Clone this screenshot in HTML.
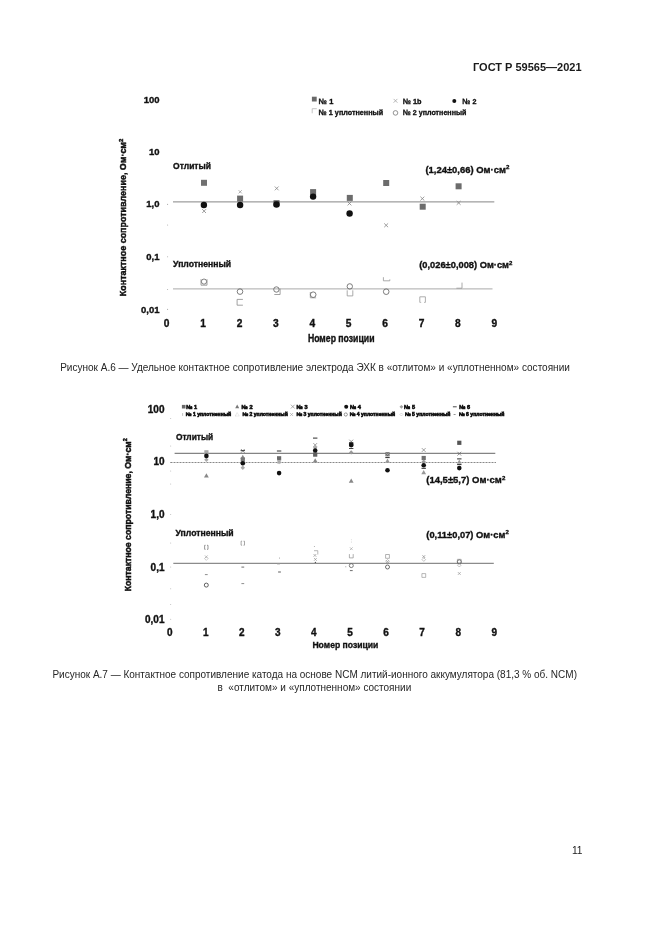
<!DOCTYPE html>
<html lang="ru"><head><meta charset="utf-8"><title>ГОСТ Р 59565—2021</title>
<style>
html,body{margin:0;padding:0;background:#fff;}
body{width:661px;height:935px;position:relative;overflow:hidden;font-family:"Liberation Sans",sans-serif;color:#1a1a1a;}
.t{position:absolute;white-space:nowrap;line-height:1;}
#hdr{left:473.0px;top:62.0px;font-size:11.0px;font-weight:bold;letter-spacing:0;}
#cap1{color:#262626;left:60.2px;top:363.1px;font-size:10.02px;}
#cap2a{color:#262626;left:52.4px;top:670.1px;font-size:10px;}
#cap2b{color:#262626;left:217.5px;top:683.1px;font-size:10px;}
#pn{left:571.9px;top:846.3px;font-size:10.2px;}
#pg{position:absolute;left:0;top:0;width:661px;height:935px;opacity:0.999;will-change:opacity;}
svg{position:absolute;left:0;top:0;}
svg text{font-family:"Liberation Sans",sans-serif;}
</style></head><body>
<div id="pg"><div class="t" id="hdr">ГОСТ Р 59565—2021</div>
<svg width="661" height="935" viewBox="0 0 661 935">
<text x="159.5" y="102.6" font-size="9.5" font-weight="bold" text-anchor="end" fill="#111" stroke="#111" stroke-width="0.35" >100</text>
<text x="159.5" y="154.9" font-size="9.5" font-weight="bold" text-anchor="end" fill="#111" stroke="#111" stroke-width="0.35" >10</text>
<text x="159.5" y="207.3" font-size="9.5" font-weight="bold" text-anchor="end" fill="#111" stroke="#111" stroke-width="0.35" >1,0</text>
<text x="159.5" y="260.1" font-size="9.5" font-weight="bold" text-anchor="end" fill="#111" stroke="#111" stroke-width="0.35" >0,1</text>
<text x="159.5" y="312.9" font-size="9.5" font-weight="bold" text-anchor="end" fill="#111" stroke="#111" stroke-width="0.35" >0,01</text>
<circle cx="167.6" cy="204.4" r="0.55" fill="#aaa"/>
<circle cx="167.6" cy="225.0" r="0.55" fill="#aaa"/>
<circle cx="167.6" cy="256.8" r="0.55" fill="#aaa"/>
<circle cx="167.6" cy="289.5" r="0.55" fill="#aaa"/>
<circle cx="167.6" cy="309.4" r="0.55" fill="#aaa"/>
<text x="166.7" y="326.9" font-size="10.2" font-weight="bold" text-anchor="middle" fill="#111" stroke="#111" stroke-width="0.35" >0</text>
<text x="203.1" y="326.9" font-size="10.2" font-weight="bold" text-anchor="middle" fill="#111" stroke="#111" stroke-width="0.35" >1</text>
<text x="239.5" y="326.9" font-size="10.2" font-weight="bold" text-anchor="middle" fill="#111" stroke="#111" stroke-width="0.35" >2</text>
<text x="275.9" y="326.9" font-size="10.2" font-weight="bold" text-anchor="middle" fill="#111" stroke="#111" stroke-width="0.35" >3</text>
<text x="312.3" y="326.9" font-size="10.2" font-weight="bold" text-anchor="middle" fill="#111" stroke="#111" stroke-width="0.35" >4</text>
<text x="348.7" y="326.9" font-size="10.2" font-weight="bold" text-anchor="middle" fill="#111" stroke="#111" stroke-width="0.35" >5</text>
<text x="385.1" y="326.9" font-size="10.2" font-weight="bold" text-anchor="middle" fill="#111" stroke="#111" stroke-width="0.35" >6</text>
<text x="421.5" y="326.9" font-size="10.2" font-weight="bold" text-anchor="middle" fill="#111" stroke="#111" stroke-width="0.35" >7</text>
<text x="457.9" y="326.9" font-size="10.2" font-weight="bold" text-anchor="middle" fill="#111" stroke="#111" stroke-width="0.35" >8</text>
<text x="494.3" y="326.9" font-size="10.2" font-weight="bold" text-anchor="middle" fill="#111" stroke="#111" stroke-width="0.35" >9</text>
<text x="307.9" y="342.2" font-size="10.0" font-weight="bold" text-anchor="start" fill="#111" stroke="#111" stroke-width="0.35" textLength="66.6" lengthAdjust="spacingAndGlyphs">Номер позиции</text>
<text transform="translate(126.3,217.4) rotate(-90)" font-size="8.9" font-weight="bold" text-anchor="middle" fill="#111" stroke="#111" stroke-width="0.45" textLength="157.5" lengthAdjust="spacingAndGlyphs">Контактное сопротивление, Ом·см<tspan dy="-3.5" font-size="6">2</tspan></text>
<path d="M173 201.9H494.3" stroke="#777" stroke-width="0.9"/>
<path d="M173 288.9H492.5" stroke="#858585" stroke-width="0.7"/>
<text x="173.1" y="169.2" font-size="8.9" font-weight="bold" text-anchor="start" fill="#111" stroke="#111" stroke-width="0.35" textLength="37.9" lengthAdjust="spacingAndGlyphs">Отлитый</text>
<text x="173.1" y="267.4" font-size="8.9" font-weight="bold" text-anchor="start" fill="#111" stroke="#111" stroke-width="0.35" textLength="58" lengthAdjust="spacingAndGlyphs">Уплотненный</text>
<text x="425.4" y="172.5" font-size="9.5" font-weight="bold" text-anchor="start" fill="#111" stroke="#111" stroke-width="0.35" textLength="84" lengthAdjust="spacingAndGlyphs">(1,24±0,66) Ом·см<tspan dy="-3.5" font-size="6.2">2</tspan></text>
<text x="419.2" y="268.4" font-size="9.5" font-weight="bold" text-anchor="start" fill="#111" stroke="#111" stroke-width="0.35" textLength="93.2" lengthAdjust="spacingAndGlyphs">(0,026±0,008) Ом·см<tspan dy="-3.5" font-size="6.2">2</tspan></text>
<rect x="311.9" y="96.7" width="4.8" height="4.8" fill="#6a6a6a"/>
<text x="318.8" y="103.8" font-size="7.8" font-weight="bold" text-anchor="start" fill="#111" stroke="#111" stroke-width="0.35" textLength="14.5" lengthAdjust="spacingAndGlyphs">№ 1</text>
<path d="M393.6 98.9L397.4 102.7M393.6 102.7L397.4 98.9" stroke="#999" stroke-width="0.7" fill="none"/>
<text x="402.9" y="103.8" font-size="7.8" font-weight="bold" text-anchor="start" fill="#111" stroke="#111" stroke-width="0.35" textLength="18.7" lengthAdjust="spacingAndGlyphs">№ 1b</text>
<circle cx="454.3" cy="100.9" r="2.0" fill="#111"/>
<text x="462.5" y="103.8" font-size="7.8" font-weight="bold" text-anchor="start" fill="#111" stroke="#111" stroke-width="0.35" textLength="13.9" lengthAdjust="spacingAndGlyphs">№ 2</text>
<path d="M312.2 108.7H316.8M312.2 108.7V113.3" stroke="#aaa" stroke-width="0.7" fill="none"/>
<text x="318.8" y="115.0" font-size="7.8" font-weight="bold" text-anchor="start" fill="#111" stroke="#111" stroke-width="0.35" textLength="64.4" lengthAdjust="spacingAndGlyphs">№ 1 уплотненный</text>
<circle cx="395.5" cy="112.9" r="2.3" fill="none" stroke="#666" stroke-width="0.7"/>
<text x="402.9" y="115.0" font-size="7.8" font-weight="bold" text-anchor="start" fill="#111" stroke="#111" stroke-width="0.35" textLength="63.5" lengthAdjust="spacingAndGlyphs">№ 2 уплотненный</text>
<path d="M202.2 209.2L206.0 213.0M202.2 213.0L206.0 209.2" stroke="#858585" stroke-width="0.8" fill="none"/>
<rect x="201.0" y="179.8" width="6" height="6" fill="#707070"/>
<circle cx="203.9" cy="205.0" r="3.2" fill="#111"/>
<path d="M238.6 190.2L241.8 193.4M238.6 193.4L241.8 190.2" stroke="#999" stroke-width="0.8" fill="none"/>
<rect x="237.1" y="195.6" width="6" height="6" fill="#6c6c6c"/>
<circle cx="240.1" cy="205.0" r="3.2" fill="#111"/>
<path d="M274.8 186.5L278.6 190.3M274.8 190.3L278.6 186.5" stroke="#858585" stroke-width="0.8" fill="none"/>
<rect x="273.5" y="200.3" width="6" height="6" fill="#555"/>
<circle cx="276.5" cy="204.5" r="3.2" fill="#111"/>
<rect x="310.1" y="189.1" width="6" height="6" fill="#6c6c6c"/>
<circle cx="313.1" cy="196.6" r="3.2" fill="#111"/>
<rect x="346.8" y="194.9" width="6" height="6" fill="#6c6c6c"/>
<path d="M347.6 201.6L351.4 205.4M347.6 205.4L351.4 201.6" stroke="#858585" stroke-width="0.8" fill="none"/>
<circle cx="349.6" cy="213.5" r="3.2" fill="#111"/>
<rect x="383.2" y="180.0" width="6" height="6" fill="#6c6c6c"/>
<path d="M384.2 223.4L388.1 227.2M384.2 227.2L388.1 223.4" stroke="#858585" stroke-width="0.8" fill="none"/>
<path d="M420.4 196.7L424.3 200.5M420.4 200.5L424.3 196.7" stroke="#858585" stroke-width="0.8" fill="none"/>
<rect x="419.7" y="203.7" width="6" height="6" fill="#6c6c6c"/>
<rect x="455.6" y="183.3" width="6" height="6" fill="#6c6c6c"/>
<path d="M456.7 201.0L460.6 204.8M456.7 204.8L460.6 201.0" stroke="#858585" stroke-width="0.8" fill="none"/>
<path d="M201.0 285.2H207.0M201.0 279.2V285.2M207.0 279.2V285.2" stroke="#8a8a8a" stroke-width="0.8" fill="none"/>
<circle cx="204.0" cy="281.6" r="2.6" fill="none" stroke="#666" stroke-width="0.8"/>
<circle cx="240.0" cy="291.6" r="2.8" fill="none" stroke="#666" stroke-width="0.85"/>
<path d="M237.1 299.4H242.9M237.1 305.2H242.9M237.1 299.4V305.2" stroke="#8a8a8a" stroke-width="0.8" fill="none"/>
<circle cx="276.4" cy="289.5" r="2.7" fill="none" stroke="#666" stroke-width="0.85"/>
<path d="M274.3 294.5H280.1M280.1 288.7V294.5" stroke="#8a8a8a" stroke-width="0.8" fill="none"/>
<path d="M310.3 297.8H316.1M310.3 292.0V297.8" stroke="#959595" stroke-width="0.8" fill="none"/>
<circle cx="313.2" cy="294.7" r="2.8" fill="none" stroke="#666" stroke-width="0.85"/>
<circle cx="349.8" cy="286.4" r="2.7" fill="none" stroke="#666" stroke-width="0.85"/>
<path d="M347.2 295.9H352.8M347.2 290.3V295.9M352.8 290.3V295.9" stroke="#959595" stroke-width="0.8" fill="none"/>
<path d="M383.4 277.2V280.8H389.8V279.4" stroke="#959595" stroke-width="0.8" fill="none"/>
<circle cx="386.2" cy="291.7" r="2.8" fill="none" stroke="#666" stroke-width="0.85"/>
<path d="M419.8 296.8H425.4M419.8 296.8V302.4M425.4 296.8V302.4" stroke="#999" stroke-width="0.8" fill="none"/>
<path d="M419.8 302.4H421.2M424 302.4H425.4" stroke="#aaa" stroke-width="0.8"/>
<path d="M456.4 288.2H462.0M462.0 282.6V288.2" stroke="#959595" stroke-width="0.8" fill="none"/>
<text x="164.5" y="413.0" font-size="10" font-weight="bold" text-anchor="end" fill="#111" stroke="#111" stroke-width="0.35" >100</text>
<text x="164.5" y="465.4" font-size="10" font-weight="bold" text-anchor="end" fill="#111" stroke="#111" stroke-width="0.35" >10</text>
<text x="164.5" y="518.2" font-size="10" font-weight="bold" text-anchor="end" fill="#111" stroke="#111" stroke-width="0.35" >1,0</text>
<text x="164.5" y="570.6" font-size="10" font-weight="bold" text-anchor="end" fill="#111" stroke="#111" stroke-width="0.35" >0,1</text>
<text x="164.5" y="622.9" font-size="10" font-weight="bold" text-anchor="end" fill="#111" stroke="#111" stroke-width="0.35" >0,01</text>
<circle cx="170.7" cy="418.6" r="0.5" fill="#b5b5b5"/>
<circle cx="170.7" cy="446.0" r="0.5" fill="#b5b5b5"/>
<circle cx="170.7" cy="462.5" r="0.5" fill="#b5b5b5"/>
<circle cx="170.7" cy="470.9" r="0.5" fill="#b5b5b5"/>
<circle cx="170.7" cy="484.0" r="0.5" fill="#b5b5b5"/>
<circle cx="170.7" cy="514.6" r="0.5" fill="#b5b5b5"/>
<circle cx="170.7" cy="542.9" r="0.5" fill="#b5b5b5"/>
<circle cx="170.7" cy="567.0" r="0.5" fill="#b5b5b5"/>
<circle cx="170.7" cy="588.7" r="0.5" fill="#b5b5b5"/>
<circle cx="170.7" cy="604.4" r="0.5" fill="#b5b5b5"/>
<circle cx="170.7" cy="619.3" r="0.5" fill="#b5b5b5"/>
<text x="169.7" y="635.5" font-size="10.0" font-weight="bold" text-anchor="middle" fill="#111" stroke="#111" stroke-width="0.35" >0</text>
<text x="205.8" y="635.5" font-size="10.0" font-weight="bold" text-anchor="middle" fill="#111" stroke="#111" stroke-width="0.35" >1</text>
<text x="241.8" y="635.5" font-size="10.0" font-weight="bold" text-anchor="middle" fill="#111" stroke="#111" stroke-width="0.35" >2</text>
<text x="277.9" y="635.5" font-size="10.0" font-weight="bold" text-anchor="middle" fill="#111" stroke="#111" stroke-width="0.35" >3</text>
<text x="313.9" y="635.5" font-size="10.0" font-weight="bold" text-anchor="middle" fill="#111" stroke="#111" stroke-width="0.35" >4</text>
<text x="350.0" y="635.5" font-size="10.0" font-weight="bold" text-anchor="middle" fill="#111" stroke="#111" stroke-width="0.35" >5</text>
<text x="386.1" y="635.5" font-size="10.0" font-weight="bold" text-anchor="middle" fill="#111" stroke="#111" stroke-width="0.35" >6</text>
<text x="422.1" y="635.5" font-size="10.0" font-weight="bold" text-anchor="middle" fill="#111" stroke="#111" stroke-width="0.35" >7</text>
<text x="458.2" y="635.5" font-size="10.0" font-weight="bold" text-anchor="middle" fill="#111" stroke="#111" stroke-width="0.35" >8</text>
<text x="494.2" y="635.5" font-size="10.0" font-weight="bold" text-anchor="middle" fill="#111" stroke="#111" stroke-width="0.35" >9</text>
<text x="312.4" y="648.1" font-size="9.8" font-weight="bold" text-anchor="start" fill="#111" stroke="#111" stroke-width="0.35" textLength="66" lengthAdjust="spacingAndGlyphs">Номер позиции</text>
<text transform="translate(130.8,514.8) rotate(-90)" font-size="9.6" font-weight="bold" text-anchor="middle" fill="#111" stroke="#111" stroke-width="0.5" textLength="153" lengthAdjust="spacingAndGlyphs">Контактное сопротивление, Ом·см<tspan dy="-3.5" font-size="6">2</tspan></text>
<path d="M174.6 453.3H495.3" stroke="#666" stroke-width="1.0"/>
<path d="M170.5 462.5H496" stroke="#7a7a7a" stroke-width="0.9" stroke-dasharray="2 1"/>
<path d="M173.3 563.3H493.8" stroke="#606060" stroke-width="0.9"/>
<text x="175.9" y="440.4" font-size="9.0" font-weight="bold" text-anchor="start" fill="#111" stroke="#111" stroke-width="0.35" textLength="37.3" lengthAdjust="spacingAndGlyphs">Отлитый</text>
<text x="175.5" y="536.2" font-size="9.0" font-weight="bold" text-anchor="start" fill="#111" stroke="#111" stroke-width="0.35" textLength="58.2" lengthAdjust="spacingAndGlyphs">Уплотненный</text>
<text x="426.3" y="483.0" font-size="9.6" font-weight="bold" text-anchor="start" fill="#111" stroke="#111" stroke-width="0.35" textLength="79" lengthAdjust="spacingAndGlyphs">(14,5±5,7) Ом·см<tspan dy="-3.5" font-size="6.2">2</tspan></text>
<text x="426.3" y="537.8" font-size="9.6" font-weight="bold" text-anchor="start" fill="#111" stroke="#111" stroke-width="0.35" textLength="82.5" lengthAdjust="spacingAndGlyphs">(0,11±0,07) Ом·см<tspan dy="-3.5" font-size="6.2">2</tspan></text>
<rect x="181.9" y="404.9" width="3.6" height="3.6" fill="#686868"/>
<text x="186.2" y="408.8" font-size="5.6" font-weight="bold" text-anchor="start" fill="#111" stroke="#111" stroke-width="0.6" >№ 1</text>
<path d="M237.2 404.6L239.2 408.2L235.2 408.2Z" fill="#777"/>
<text x="241.6" y="408.8" font-size="5.6" font-weight="bold" text-anchor="start" fill="#111" stroke="#111" stroke-width="0.6" >№ 2</text>
<path d="M290.9 404.7L294.7 408.5M290.9 408.5L294.7 404.7" stroke="#888" stroke-width="0.7" fill="none"/>
<text x="296.6" y="408.8" font-size="5.6" font-weight="bold" text-anchor="start" fill="#111" stroke="#111" stroke-width="0.6" >№ 3</text>
<circle cx="346.2" cy="406.8" r="2.0" fill="#111"/>
<text x="349.9" y="408.8" font-size="5.6" font-weight="bold" text-anchor="start" fill="#111" stroke="#111" stroke-width="0.6" >№ 4</text>
<path d="M401.4 404.9L403.3 406.8L401.4 408.7L399.5 406.8Z" fill="#a0a0a0"/>
<text x="404.1" y="408.8" font-size="5.6" font-weight="bold" text-anchor="start" fill="#111" stroke="#111" stroke-width="0.6" >№ 5</text>
<path d="M452.9 406.8H456.7" stroke="#333" stroke-width="0.9"/>
<text x="459.2" y="408.8" font-size="5.6" font-weight="bold" text-anchor="start" fill="#111" stroke="#111" stroke-width="0.6" >№ 6</text>
<path d="M182.6 413.1V415.9" stroke="#999" stroke-width="0.6" fill="none"/>
<text x="185.8" y="416.4" font-size="5.1" font-weight="bold" text-anchor="start" fill="#111" stroke="#111" stroke-width="0.6" >№ 1 уплотненный</text>
<path d="M237.2 412.6L239.2 416H235.2Z" fill="none" stroke="#aaa" stroke-width="0.5" stroke-dasharray="0.6 0.6"/>
<text x="242.4" y="416.4" font-size="5.1" font-weight="bold" text-anchor="start" fill="#111" stroke="#111" stroke-width="0.6" >№ 2 уплотненный</text>
<path d="M290.1 413.0L293.1 416.0M290.1 416.0L293.1 413.0" stroke="#999" stroke-width="0.6" fill="none"/>
<text x="296.4" y="416.4" font-size="5.1" font-weight="bold" text-anchor="start" fill="#111" stroke="#111" stroke-width="0.6" >№ 3 уплотненный</text>
<circle cx="345.8" cy="414.5" r="1.6" fill="none" stroke="#555" stroke-width="0.6"/>
<text x="349.7" y="416.4" font-size="5.1" font-weight="bold" text-anchor="start" fill="#111" stroke="#111" stroke-width="0.6" >№ 4 уплотненный</text>
<path d="M401.4 413.0L402.9 414.5L401.4 416.0L399.9 414.5Z" fill="none" stroke="#bbb" stroke-width="0.5"/>
<text x="405.0" y="416.4" font-size="5.1" font-weight="bold" text-anchor="start" fill="#111" stroke="#111" stroke-width="0.6" >№ 5 уплотненный</text>
<path d="M453.6 414.5H455.6" stroke="#777" stroke-width="0.8"/>
<text x="459.0" y="416.4" font-size="5.1" font-weight="bold" text-anchor="start" fill="#111" stroke="#111" stroke-width="0.6" >№ 6 уплотненный</text>
<rect x="204.3" y="450.2" width="4.2" height="4.2" fill="#a8a8a8"/>
<path d="M206.4 457.5L208.6 459.7L206.4 461.9L204.2 459.7Z" fill="#aaa"/>
<circle cx="206.4" cy="455.9" r="2.3" fill="#111"/>
<path d="M206.4 473.2L208.8 477.5L204.0 477.5Z" fill="#888"/>
<path d="M240.9 449.0L244.7 452.8M240.9 452.8L244.7 449.0" stroke="#666" stroke-width="0.7" fill="none"/>
<path d="M240.6 450.6H245.0" stroke="#444" stroke-width="1.0"/>
<path d="M242.8 454.8L245.2 459.1L240.4 459.1Z" fill="#888"/>
<rect x="240.7" y="457.4" width="4.2" height="4.2" fill="#777"/>
<path d="M242.8 465.6L245.0 467.8L242.8 470.0L240.6 467.8Z" fill="#aaa"/>
<circle cx="242.8" cy="463.2" r="2.3" fill="#111"/>
<path d="M276.9 451.0H281.3" stroke="#2a2a2a" stroke-width="1.0"/>
<rect x="277.0" y="456.2" width="4.2" height="4.2" fill="#6a6a6a"/>
<path d="M277.2 459.6L281.0 463.4M277.2 463.4L281.0 459.6" stroke="#999" stroke-width="0.7" fill="none"/>
<path d="M279.1 459.9L281.3 462.1L279.1 464.3L276.9 462.1Z" fill="#aaa"/>
<circle cx="279.1" cy="473.1" r="2.3" fill="#111"/>
<path d="M313.0 438.1H317.4" stroke="#2a2a2a" stroke-width="1.0"/>
<path d="M313.3 443.1L317.1 446.9M313.3 446.9L317.1 443.1" stroke="#777" stroke-width="0.7" fill="none"/>
<path d="M315.2 445.4L317.4 447.6L315.2 449.8L313.0 447.6Z" fill="#aaa"/>
<rect x="313.1" y="452.5" width="4.2" height="4.2" fill="#606060"/>
<path d="M315.2 458.3L317.6 462.6L312.8 462.6Z" fill="#888"/>
<circle cx="315.2" cy="450.5" r="2.3" fill="#111"/>
<path d="M349.3 439.7L353.1 443.5M349.3 443.5L353.1 439.7" stroke="#666" stroke-width="0.7" fill="none"/>
<rect x="349.1" y="442.1" width="4.2" height="4.2" fill="#333"/>
<circle cx="351.2" cy="445.1" r="2.3" fill="#111"/>
<path d="M349.0 448.5H353.4" stroke="#444" stroke-width="1.0"/>
<path d="M351.2 450.2L353.4 452.4L351.2 454.6L349.0 452.4Z" fill="#999"/>
<path d="M351.2 478.4L353.6 482.7L348.8 482.7Z" fill="#888"/>
<rect x="385.4" y="452.2" width="4.2" height="4.2" fill="#6c6c6c"/>
<path d="M386.0 452.8L389.0 455.8M386.0 455.8L389.0 452.8" stroke="#bbb" stroke-width="0.6" fill="none"/>
<path d="M385.3 457.6H389.7" stroke="#2a2a2a" stroke-width="1.0"/>
<path d="M387.5 458.5L389.9 462.8L385.1 462.8Z" fill="#999"/>
<circle cx="387.5" cy="470.3" r="2.3" fill="#111"/>
<path d="M421.8 448.1L425.6 451.9M421.8 451.9L425.6 448.1" stroke="#777" stroke-width="0.7" fill="none"/>
<rect x="421.6" y="455.9" width="4.2" height="4.2" fill="#707070"/>
<path d="M423.7 459.6L425.9 461.8L423.7 464.0L421.5 461.8Z" fill="#999"/>
<circle cx="423.7" cy="465.2" r="2.3" fill="#111"/>
<path d="M421.5 468.3H425.9" stroke="#2a2a2a" stroke-width="1.0"/>
<path d="M423.7 470.0L426.1 474.3L421.3 474.3Z" fill="#999"/>
<rect x="457.2" y="440.7" width="4.2" height="4.2" fill="#555"/>
<path d="M457.4 451.8L461.2 455.6M457.4 455.6L461.2 451.8" stroke="#666" stroke-width="0.7" fill="none"/>
<path d="M457.1 458.9H461.5" stroke="#2a2a2a" stroke-width="1.0"/>
<path d="M459.3 459.4L461.7 463.7L456.9 463.7Z" fill="#999"/>
<path d="M457.1 464.6H461.5" stroke="#2a2a2a" stroke-width="1.0"/>
<circle cx="459.3" cy="468.1" r="2.3" fill="#111"/>
<path d="M205.6 545.3H204.6V549.3H205.6M207.0 545.3H208.0V549.3H207.0" stroke="#777" stroke-width="0.75" fill="none"/>
<path d="M204.9 555.4L207.7 558.2M204.9 558.2L207.7 555.4" stroke="#999" stroke-width="0.6" fill="none"/>
<path d="M206.3 556.8L208.1 558.6L206.3 560.4L204.5 558.6Z" fill="none" stroke="#a5a5a5" stroke-width="0.5"/>
<path d="M204.9 574.6H207.7" stroke="#888" stroke-width="0.95"/>
<circle cx="206.3" cy="585.1" r="2.0" fill="none" stroke="#444" stroke-width="0.85"/>
<path d="M242.1 541.2H241.1V545.2H242.1M243.5 541.2H244.5V545.2H243.5" stroke="#8a8a8a" stroke-width="0.75" fill="none"/>
<path d="M241.4 567.1H244.2" stroke="#666" stroke-width="0.95"/>
<path d="M241.4 583.6H244.2" stroke="#888" stroke-width="0.95"/>
<circle cx="279.5" cy="558.0" r="0.5" fill="#888"/>
<path d="M277.1 563.9H279.9" stroke="#999" stroke-width="0.95"/>
<path d="M278.1 572.0H280.9" stroke="#555" stroke-width="0.95"/>
<circle cx="314.4" cy="546.4" r="0.5" fill="#999"/>
<path d="M314.0 550.7H317.8M317.8 550.7V554.5" stroke="#888" stroke-width="0.6" fill="none"/>
<path d="M313.5 554.0L316.3 556.8M313.5 556.8L316.3 554.0" stroke="#888" stroke-width="0.6" fill="none"/>
<path d="M314.0 558.0L316.8 560.8M314.0 560.8L316.8 558.0" stroke="#888" stroke-width="0.6" fill="none"/>
<circle cx="315.4" cy="562.4" r="0.7" fill="#555"/>
<circle cx="351.3" cy="539.8" r="0.4" fill="#a5a5a5"/>
<circle cx="351.3" cy="542.0" r="0.4" fill="#a5a5a5"/>
<path d="M349.9 547.3L352.7 550.1M349.9 550.1L352.7 547.3" stroke="#999" stroke-width="0.6" fill="none"/>
<path d="M349.4 557.9H353.2M349.4 554.1V557.9M353.2 554.1V557.9" stroke="#7a7a7a" stroke-width="0.6" fill="none"/>
<circle cx="351.3" cy="565.6" r="2.0" fill="none" stroke="#666" stroke-width="0.85"/>
<path d="M349.9 570.6H352.7" stroke="#666" stroke-width="0.95"/>
<circle cx="345.8" cy="566.8" r="0.5" fill="#888"/>
<path d="M385.6 554.5H389.4M385.6 558.3H389.4M385.6 554.5V558.3M389.4 554.5V558.3" stroke="#808080" stroke-width="0.6" fill="none"/>
<path d="M387.5 559.5L389.3 561.3L387.5 563.1L385.7 561.3Z" fill="none" stroke="#888" stroke-width="0.5"/>
<path d="M386.1 560.3L388.9 563.1M386.1 563.1L388.9 560.3" stroke="#999" stroke-width="0.6" fill="none"/>
<circle cx="387.5" cy="567.0" r="2.0" fill="none" stroke="#555" stroke-width="0.85"/>
<path d="M422.4 555.2L425.2 558.0M422.4 558.0L425.2 555.2" stroke="#777" stroke-width="0.6" fill="none"/>
<path d="M423.8 557.8L425.6 559.6L423.8 561.4L422.0 559.6Z" fill="none" stroke="#888" stroke-width="0.5"/>
<path d="M421.9 573.6H425.7M421.9 577.4H425.7M421.9 573.6V577.4M425.7 573.6V577.4" stroke="#888" stroke-width="0.6" fill="none"/>
<path d="M457.4 559.3H461.2M457.4 563.1H461.2M457.4 559.3V563.1M461.2 559.3V563.1" stroke="#888" stroke-width="0.6" fill="none"/>
<circle cx="459.3" cy="561.8" r="2.0" fill="none" stroke="#666" stroke-width="0.85"/>
<path d="M459.3 563.4L461.1 565.2L459.3 567.0L457.5 565.2Z" fill="none" stroke="#888" stroke-width="0.5"/>
<path d="M457.9 572.1L460.7 574.9M457.9 574.9L460.7 572.1" stroke="#888" stroke-width="0.6" fill="none"/>
</svg>
<div class="t" id="cap1">Рисунок А.6 — Удельное контактное сопротивление электрода ЭХК в «отлитом» и «уплотненном» состоянии</div>
<div class="t" id="cap2a">Рисунок А.7 — Контактное сопротивление катода на основе NCM литий-ионного аккумулятора (81,3 % об. NCM)</div>
<div class="t" id="cap2b">в&nbsp; «отлитом» и «уплотненном» состоянии</div>
<div class="t" id="pn">11</div></div>
</body></html>
